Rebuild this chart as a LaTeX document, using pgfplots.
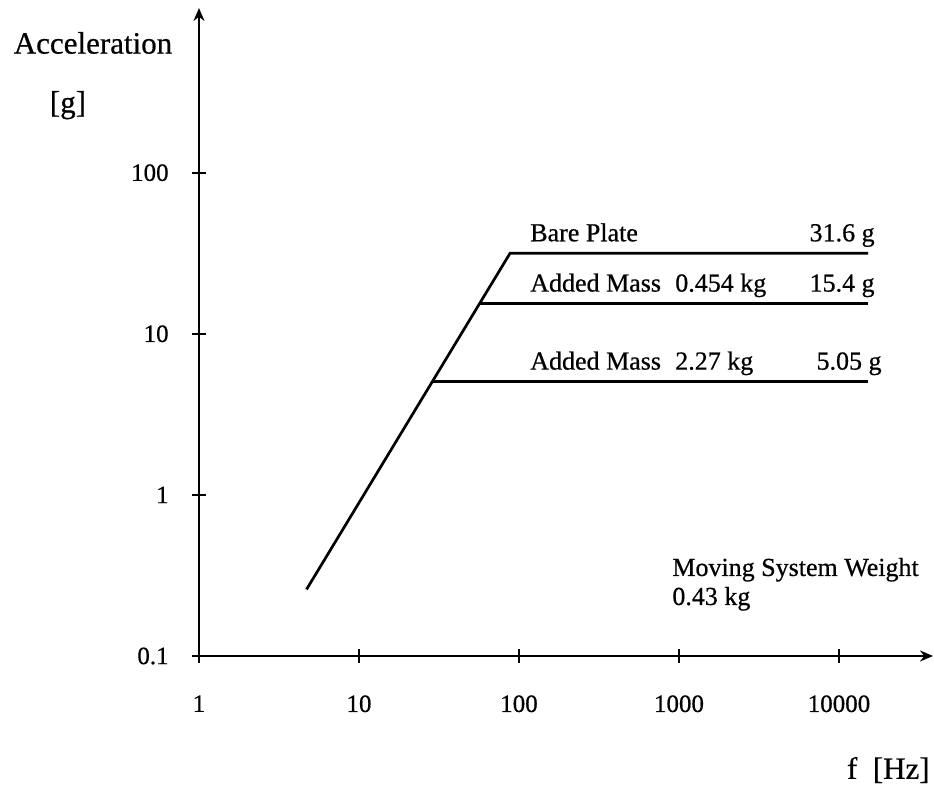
\documentclass[border=0pt]{standalone}
\usepackage{fontspec}
\setmainfont{Liberation Serif}[FakeBold=0.6]
\usepackage{pgfplots}
\pgfplotsset{compat=1.18}
\usetikzlibrary{arrows.meta}

\newcommand\txt{\fontsize{13}{15}\selectfont}
\newcommand\lbl{\fontsize{15.5}{18}\selectfont}

\begin{document}
\begin{tikzpicture}
\path[use as bounding box] (-99.5pt,-64.5pt) rectangle (367.5pt,328pt);
\begin{axis}[
  at={(0pt,0pt)}, anchor=south west,
  scale only axis, width=367pt, height=324pt,
  xmode=log, ymode=log,
  xmin=1, xmax=38700, ymin=0.1, ymax=1053,
  axis lines=left,
  axis line style={line width=1.45pt, -{Stealth[length=6.5pt,width=5.5pt]}},
  xtick={1,10,100,1000,10000}, xticklabels={1,10,100,1000,10000},
  ytick={0.1,1,10,100}, yticklabels={0.1,1,10,100},
  minor tick length=0pt,
  tick align=center, major tick length=7pt,
  tick style={line width=1.1pt, black},
  ticklabel style={font=\fontsize{12.5}{15}\selectfont},
  yticklabel style={anchor=east, inner sep=0pt, xshift=-11.5pt},
  xticklabel style={anchor=north, inner sep=0pt, yshift=-16pt},
  /pgf/number format/assume math mode=true,
  clip=false,
]
% acceleration limit curves
\addplot[line width=1.35pt, black] coordinates {(4.70,0.259) (87.9,31.6) (15200,31.6)};
\addplot[line width=1.35pt, black] coordinates {(56.7,15.4) (15200,15.4)};
\addplot[line width=1.35pt, black] coordinates {(28.7,5.05) (15200,5.05)};

% curve annotations
\node[anchor=base west, font=\txt, inner sep=0pt, yshift=6pt] at (axis cs:117,31.6) {Bare Plate};
\node[anchor=base east, font=\txt, inner sep=0pt, yshift=6pt] at (axis cs:16800,31.6) {31.6 g};
\node[anchor=base west, font=\txt, inner sep=0pt, yshift=6pt] at (axis cs:117,15.4) {Added Mass\hspace{0.55em}0.454 kg};
\node[anchor=base east, font=\txt, inner sep=0pt, yshift=6pt] at (axis cs:16800,15.4) {15.4 g};
\node[anchor=base west, font=\txt, inner sep=0pt, yshift=6pt] at (axis cs:117,5.05) {Added Mass\hspace{0.55em}2.27 kg};
\node[anchor=base east, font=\txt, inner sep=0pt, yshift=6pt] at (axis cs:18560,5.05) {5.05 g};

\node[anchor=base west, font=\txt, inner sep=0pt] at (axis description cs:0.6444,0.1235) {Moving System Weight};
\node[anchor=base west, font=\txt, inner sep=0pt] at (axis description cs:0.6444,0.0787) {0.43 kg};

% axis titles
\node[font=\lbl, inner sep=0pt] at (axis description cs:-0.1444,0.946) {Acceleration};
\node[font=\lbl, inner sep=0pt] at (axis description cs:-0.1785,0.850) {[g]};
\node[font=\lbl, inner sep=0pt, anchor=east] at (axis description cs:0.996,-0.176) {f\hspace{0.5em}[Hz]};
\end{axis}
\end{tikzpicture}
\end{document}
